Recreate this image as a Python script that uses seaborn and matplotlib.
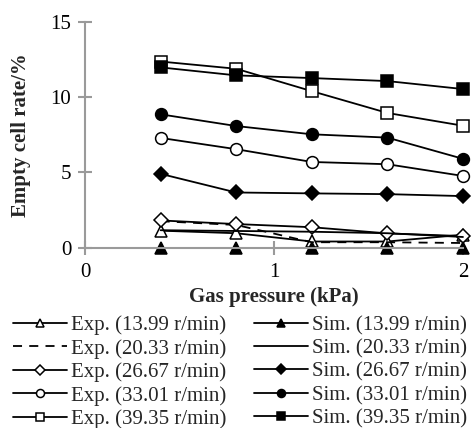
import pandas as pd
import matplotlib
matplotlib.use("Agg")
import matplotlib.pyplot as plt
import seaborn as sns

# Data
pressure = [0.4, 0.8, 1.2, 1.6, 2.0]
speeds = ["13.99", "20.33", "26.67", "33.01", "39.35"]

exp_1399 = [1.12, 0.95, 0.40, 0.40, 0.85]
exp_2033 = [1.75, 1.50, 0.35, 0.35, 0.30]
exp_2667 = [1.80, 1.56, 1.35, 0.94, 0.76]
exp_3301 = [7.29, 6.54, 5.69, 5.54, 4.76]
exp_3935 = [12.37, 11.89, 10.40, 8.95, 8.10]

sim_1399 = [0.0, 0.0, 0.0, 0.0, 0.0]
sim_2033 = [1.15, 1.10, 1.05, 0.95, 0.70]
sim_2667 = [4.90, 3.66, 3.60, 3.55, 3.42]
sim_3301 = [8.86, 8.08, 7.53, 7.31, 5.90]
sim_3935 = [11.98, 11.45, 11.27, 11.07, 10.54]

exp_series = [exp_1399, exp_2033, exp_2667, exp_3301, exp_3935]
sim_series = [sim_1399, sim_2033, sim_2667, sim_3301, sim_3935]
markers = ["^", None, "D", "o", "s"]
marker_sizes = [9, 0, 7, 8.5, 9]

FS = 15

sns.set_style("white")
plt.rcParams['font.family'] = ['Liberation Serif', 'DejaVu Serif']
plt.rcParams['font.size'] = FS

fig = plt.figure(figsize=(4.71, 4.28), dpi=100)
ax = fig.add_axes([0.1805, 0.4217, 0.8025, 0.5269])

def draw(values, marker, ms, filled, dashed, label):
    df = pd.DataFrame({"pressure": pressure, "rate": values})
    kw = dict(color="black", linewidth=1.3, label=label, clip_on=False)
    if marker:
        kw.update(marker=marker, markersize=ms, markeredgecolor="black",
                  markeredgewidth=1.1,
                  markerfacecolor="black" if filled else "white")
    if dashed:
        kw.update(linestyle=(0, (5, 4)))
    sns.lineplot(data=df, x="pressure", y="rate", ax=ax, **kw)

# Experimental (open markers) then simulated (filled markers)
for i, vals in enumerate(exp_series):
    draw(vals, markers[i] if i != 1 else None, marker_sizes[i], False,
         i == 1, f"Exp. ({speeds[i]} r/min)")
for i, vals in enumerate(sim_series):
    draw(vals, markers[i], marker_sizes[i], True, False,
         f"Sim. ({speeds[i]} r/min)")

ax.set_xlim(0, 2)
ax.set_ylim(0, 15)
ax.set_xticks([0, 1, 2])
ax.set_yticks([0, 5, 10, 15])

for side in ["top", "right"]:
    ax.spines[side].set_visible(False)
for side in ["left", "bottom"]:
    ax.spines[side].set_color("#9a9a9a")
    ax.spines[side].set_linewidth(1.5)
ax.tick_params(bottom=True, left=True, direction="inout", length=10, width=1.5,
               color="#9a9a9a", labelcolor="black", labelsize=FS)
ax.tick_params(axis="y", pad=5)
ax.tick_params(axis="x", pad=6)

ax.set_xlabel("Gas pressure (kPa)", fontweight="bold", fontsize=FS, labelpad=4)
ax.set_ylabel("Empty cell rate/%", fontweight="bold", fontsize=FS, labelpad=14)

handles, labels = ax.get_legend_handles_labels()
ax.legend(handles, labels, ncol=2, frameon=False, loc="upper center",
          bbox_to_anchor=(0.41, -0.264), fontsize=FS, handlelength=2.6,
          handletextpad=0.2, columnspacing=1.3, labelspacing=0.18,
          markerscale=0.68, borderaxespad=0)

fig.savefig("out.png", dpi=100)
